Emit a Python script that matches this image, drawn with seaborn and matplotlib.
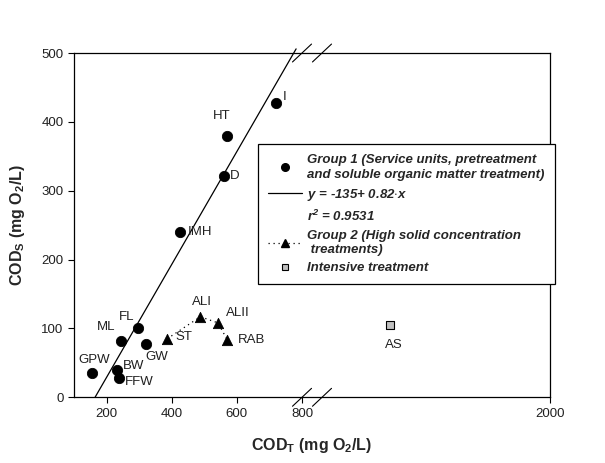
"""
Soluble vs total COD scatter with a broken x axis,
three treatment groups and the group 1 regression line.
"""
import numpy as np
import pandas as pd
import seaborn as sns
import matplotlib.pyplot as plt
from matplotlib.lines import Line2D

# Data
g1_names = ['GPW', 'BW', 'FFW', 'ML', 'FL', 'GW', 'IMH', 'D', 'HT', 'I']
g1_codt = [154, 231, 239, 243, 297, 320, 425, 560, 569, 719]
g1_cods = [36, 39, 28, 82, 101, 77, 240, 321, 380, 428]

g2_names = ['ST', 'ALI', 'ALII', 'RAB']
g2_codt = [386, 488, 542, 571]
g2_cods = [85, 117, 108, 83]

int_names = ['AS']
int_codt = [1160]
int_cods = [105]

fit_intercept = -135
fit_slope = 0.82
fit_r2 = 0.9531

x_ticks = [200, 400, 600, 800, 2000]
y_ticks = [0, 100, 200, 300, 400, 500]

# label offsets in points (dx, dy, ha)
label_pos = {
    'GPW': (2, 9, 'center'), 'BW': (4.5, 3, 'left'),
    'FFW': (3.7, -2.7, 'left'), 'ML': (-10.6, 10, 'center'),
    'FL': (-8.4, 8, 'center'), 'GW': (8, -9.4, 'center'),
    'IMH': (6, 0, 'left'), 'D': (4, 0, 'left'),
    'HT': (-3.6, 14.4, 'center'), 'I': (5, 4, 'left'),
    'ST': (6, 1, 'left'), 'ALI': (1, 10.8, 'center'),
    'ALII': (5.5, 7.2, 'left'), 'RAB': (7.7, 0, 'left'),
    'AS': (2.4, -14.4, 'center'),
}

# broken axis: 100-800 at full scale, gap, then 800-2000 compressed
BREAK = 800
GAP = 61
SQUEEZE = 0.5833


def forward(x):
    x = np.asarray(x, dtype=float)
    return np.where(x <= BREAK, x, BREAK + GAP + (x - BREAK) * SQUEEZE)


def inverse(v):
    v = np.asarray(v, dtype=float)
    return np.where(v <= BREAK, v,
                    np.where(v < BREAK + GAP, BREAK,
                             BREAK + (v - BREAK - GAP) / SQUEEZE))


def main():
    sns.set_style('ticks')
    plt.rcParams['font.family'] = ['Liberation Sans', 'DejaVu Sans']
    plt.rcParams['mathtext.fontset'] = 'custom'
    plt.rcParams['mathtext.rm'] = 'Liberation Sans'
    plt.rcParams['mathtext.bf'] = 'Liberation Sans:bold'
    plt.rcParams['mathtext.it'] = 'Liberation Sans:italic'
    plt.rcParams['mathtext.bfit'] = 'Liberation Sans:bold:italic'

    g1 = pd.DataFrame({'name': g1_names, 'codt': g1_codt, 'cods': g1_cods})
    g2 = pd.DataFrame({'name': g2_names, 'codt': g2_codt, 'cods': g2_cods})
    g3 = pd.DataFrame({'name': int_names, 'codt': int_codt, 'cods': int_cods})

    fig = plt.figure(figsize=(6.05, 4.63), dpi=100)
    ax = fig.add_axes([0.1223, 0.1419, 0.7868, 0.7436])
    ax.set_xscale('function', functions=(forward, inverse))

    # regression line for group 1
    x0 = -fit_intercept / fit_slope
    x1 = (506 - fit_intercept) / fit_slope
    fit_x = np.array([x0, x1])
    ax.plot(fit_x, fit_intercept + fit_slope * fit_x, color='black',
            lw=0.9, clip_on=False, zorder=2)

    sns.scatterplot(data=g1, x='codt', y='cods', ax=ax, color='black',
                    marker='o', s=55, edgecolor='black', zorder=3,
                    legend=False)
    sns.lineplot(data=g2, x='codt', y='cods', ax=ax, color='black',
                 linestyle=(0, (1, 3)), lw=0.9, sort=True, zorder=2,
                 legend=False)
    sns.scatterplot(data=g2, x='codt', y='cods', ax=ax, color='black',
                    marker='^', s=55, edgecolor='black', zorder=3,
                    legend=False)
    sns.scatterplot(data=g3, x='codt', y='cods', ax=ax, color='#c0c0c0',
                    marker='s', s=40, edgecolor='black', linewidth=0.8,
                    zorder=3, legend=False)

    for df in (g1, g2, g3):
        for _, row in df.iterrows():
            dx, dy, ha = label_pos[row['name']]
            ax.annotate(row['name'], (row['codt'], row['cods']),
                        xytext=(dx, dy), textcoords='offset points',
                        ha=ha, va='center', fontsize=9.5, color='#202020')

    ax.set_xlim(100, 2000)
    ax.set_ylim(0, 500)
    ax.set_xticks(x_ticks)
    ax.set_xticklabels([str(t) for t in x_ticks])
    ax.set_yticks(y_ticks)
    ax.tick_params(axis='both', direction='out', length=4, width=0.8,
                   labelsize=9.5, colors='black', labelcolor='#202020')
    for side in ['top', 'right', 'left', 'bottom']:
        ax.spines[side].set_visible(True)
        ax.spines[side].set_color('black')
        ax.spines[side].set_linewidth(0.9)

    ax.set_xlabel(r'$\mathbf{COD_T\ (mg\ O_2/L)}$', fontsize=11.5,
                  labelpad=12)
    ax.set_ylabel(r'$\mathbf{COD_S\ (mg\ O_2/L)}$', fontsize=11.5,
                  labelpad=10)

    # break marks on top and bottom spines
    for bx in (0.479, 0.521):
        for by in (0.0, 1.0):
            ax.plot([bx - 0.02, bx + 0.02], [by - 0.026, by + 0.026],
                    transform=ax.transAxes, color='black', lw=0.8,
                    clip_on=False, zorder=4)

    handles = [
        Line2D([], [], color='black', marker='o', linestyle='none',
               markersize=5.5),
        Line2D([], [], color='black', lw=0.9),
        Line2D([], [], color='none', lw=0),
        Line2D([], [], color='black', marker='^', linestyle=(0, (1, 3)),
               markersize=5.5, lw=0.9),
        Line2D([], [], color='black', marker='s', markerfacecolor='#c0c0c0',
               linestyle='none', markersize=5, markeredgewidth=0.8),
    ]
    labels = [
        'Group 1 (Service units, pretreatment\n'
        'and soluble organic matter treatment)',
        'y = %d+ %.2f$\\cdot$x' % (fit_intercept, fit_slope),
        r'$\mathbfit{r^2}$ = %.4f' % fit_r2,
        'Group 2 (High solid concentration\n treatments)',
        'Intensive treatment',
    ]
    leg = ax.legend(handles, labels, loc='upper left',
                    bbox_to_anchor=(258 / 605, 1 - 144 / 463),
                    bbox_transform=fig.transFigure, frameon=True,
                    fancybox=False, edgecolor='black', framealpha=1,
                    prop={'weight': 'bold', 'style': 'italic', 'size': 9.5},
                    handlelength=2.6, handletextpad=0.4, labelspacing=0.45,
                    borderpad=0.75, borderaxespad=0)
    for txt in leg.get_texts():
        txt.set_linespacing(1.3)
    leg.get_frame().set_linewidth(0.9)
    leg.set_zorder(5)

    plt.savefig('out.png', dpi=100)


if __name__ == '__main__':
    main()
